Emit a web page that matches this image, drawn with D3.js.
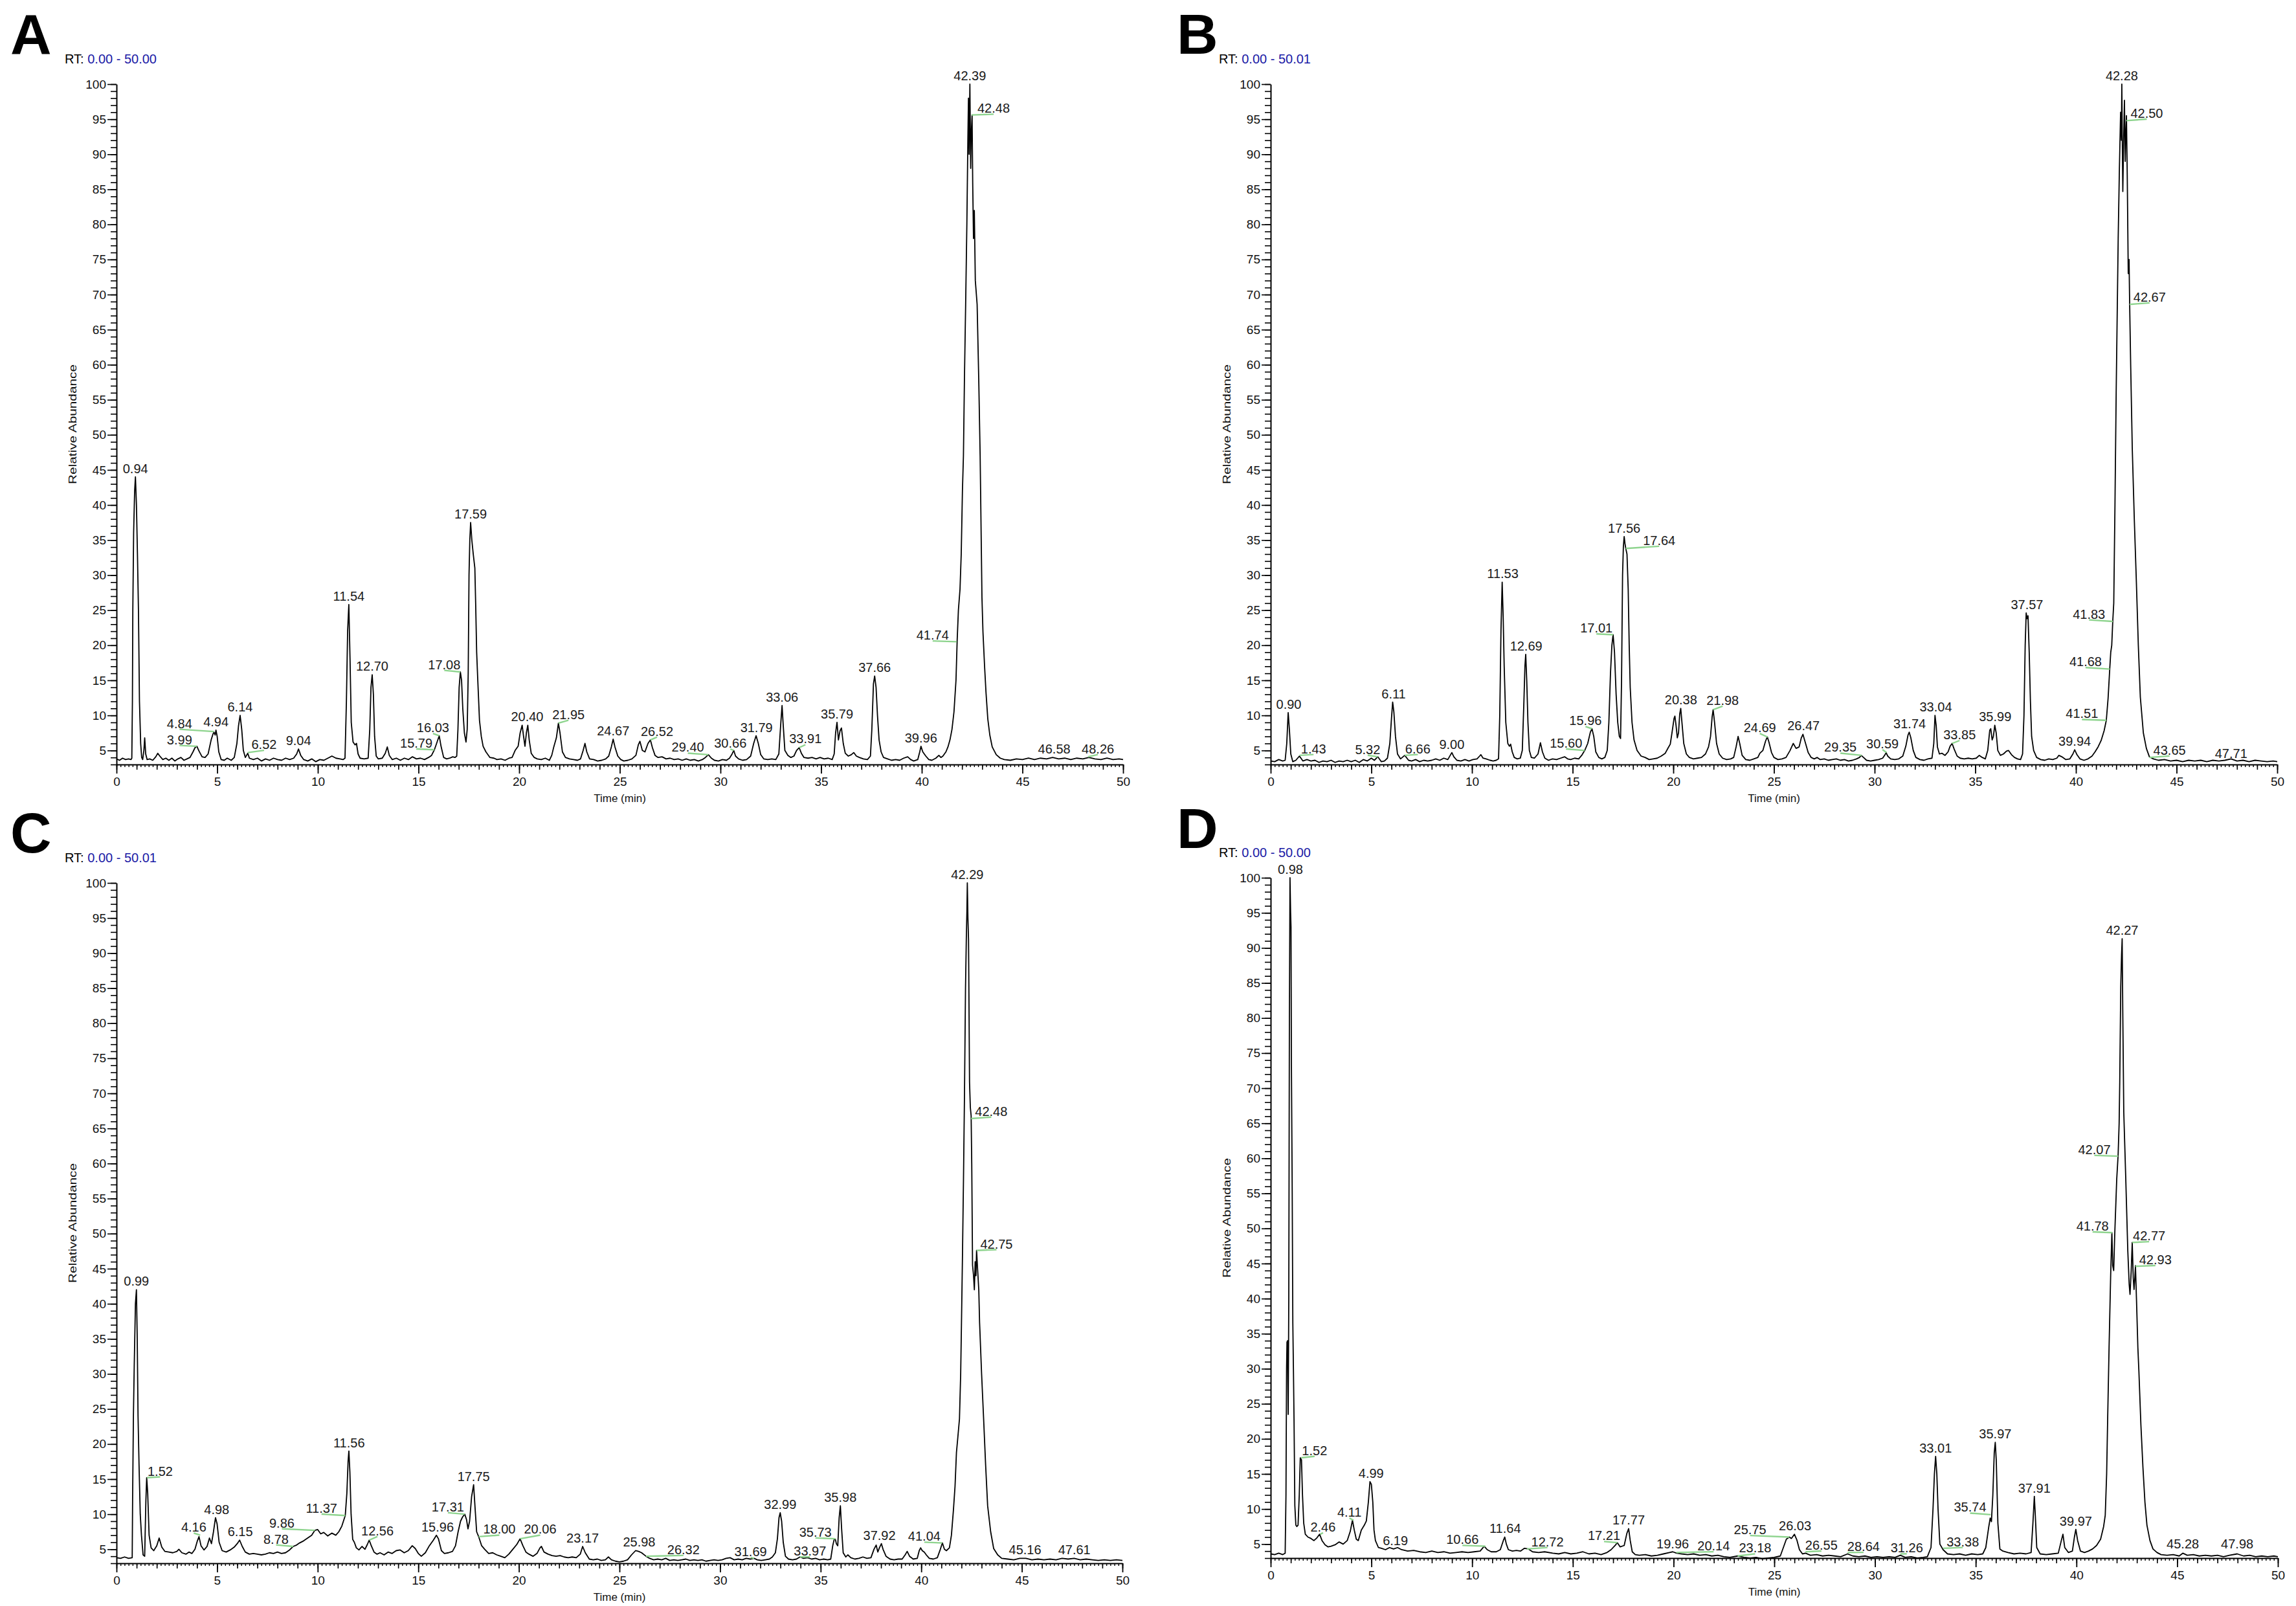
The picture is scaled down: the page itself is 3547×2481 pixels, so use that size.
<!DOCTYPE html>
<html><head><meta charset="utf-8">
<script src="https://cdn.jsdelivr.net/npm/d3@7"></script>
<style>html,body{margin:0;padding:0;background:#fff;} svg{display:block;}</style>
</head><body>
<script>
// ---------------- DATA ----------------
const panelLetters = ["A", "B", "C", "D"];
const rtRanges = ["0.00 - 50.00", "0.00 - 50.01", "0.00 - 50.01", "0.00 - 50.00"];
const yTickLabels = [5,10,15,20,25,30,35,40,45,50,55,60,65,70,75,80,85,90,95,100];
const xTickLabels = [0,5,10,15,20,25,30,35,40,45,50];
const yAxisTitle = "Relative Abundance";
const xAxisTitle = "Time (min)";

// chromatogram traces: [time (min), relative abundance (%)]
const traceA = [[0,3.8],[0.15,3.6],[0.3,3.9],[0.45,3.7],[0.6,3.8],[0.72,3.7],[0.76,3.9],[0.79,12],[0.81,25],[0.85,36],[0.9,42],[0.94,44],[0.99,40],[1.04,33],[1.09,25],[1.14,12],[1.2,6],[1.25,4.0],[1.3,3.7],[1.36,5],[1.4,6.8],[1.45,4.5],[1.52,3.7],[1.65,3.8],[1.8,3.6],[1.95,4.1],[2.05,4.6],[2.15,4.2],[2.3,3.7],[2.45,3.9],[2.6,3.6],[2.75,3.9],[2.9,3.5],[3.05,3.8],[3.2,4.0],[3.35,3.6],[3.5,3.8],[3.65,4.0],[3.8,4.8],[3.9,5.4],[3.99,5.6],[4.1,4.9],[4.25,4.1],[4.4,4.0],[4.55,4.5],[4.7,6.5],[4.8,7.4],[4.84,7.6],[4.9,7.2],[4.94,7.9],[5.0,7.0],[5.08,4.8],[5.2,3.7],[5.35,3.6],[5.5,3.9],[5.7,3.6],[5.85,4.0],[5.98,6.0],[6.06,8.5],[6.14,10.0],[6.22,8.0],[6.3,5.0],[6.4,4.0],[6.52,4.6],[6.6,3.9],[6.8,3.7],[7.0,3.9],[7.2,3.5],[7.4,3.8],[7.6,3.6],[7.8,3.9],[8.0,3.7],[8.2,3.6],[8.4,3.9],[8.6,3.7],[8.8,3.9],[8.95,4.5],[9.04,5.2],[9.15,4.3],[9.3,3.7],[9.5,3.5],[9.7,3.8],[9.9,3.4],[10.1,3.7],[10.3,3.6],[10.5,3.9],[10.7,4.2],[10.9,3.9],[11.1,3.8],[11.25,3.7],[11.35,3.9],[11.42,12],[11.48,22],[11.54,25.8],[11.6,18],[11.66,9],[11.75,6.2],[11.85,5.8],[11.92,6.0],[12.0,4.5],[12.1,3.9],[12.3,3.8],[12.5,3.9],[12.58,8],[12.64,14],[12.7,15.8],[12.76,13],[12.82,7],[12.9,4.2],[13.0,3.8],[13.2,3.9],[13.35,4.6],[13.45,5.5],[13.55,4.3],[13.7,3.7],[13.9,3.9],[14.1,3.6],[14.3,3.9],[14.5,3.7],[14.7,4.1],[14.9,3.8],[15.1,3.9],[15.3,3.7],[15.5,4.0],[15.65,4.3],[15.79,5.1],[15.9,6.0],[16.03,7.1],[16.12,5.6],[16.25,4.0],[16.4,3.8],[16.55,3.9],[16.7,4.1],[16.82,4.0],[16.9,4.2],[16.96,8],[17.02,14],[17.08,16.2],[17.14,15],[17.2,11],[17.28,7.5],[17.36,6.2],[17.42,8],[17.47,16],[17.51,30],[17.55,35],[17.59,37.5],[17.65,35],[17.72,33],[17.8,31],[17.84,26],[17.89,19],[17.94,15.4],[18.03,9.3],[18.12,7],[18.21,5.6],[18.35,4.8],[18.55,4.0],[18.75,3.9],[18.9,3.7],[19.1,3.8],[19.3,3.6],[19.5,3.9],[19.65,4.0],[19.8,5.0],[19.95,5.6],[20.05,7.5],[20.15,8.6],[20.22,7.0],[20.29,5.6],[20.36,7.5],[20.43,8.6],[20.5,6.5],[20.6,4.6],[20.75,4.0],[20.9,3.8],[21.1,3.7],[21.3,3.9],[21.5,3.6],[21.62,4.3],[21.72,5.5],[21.85,6.8],[21.95,8.9],[22.03,7.5],[22.15,4.8],[22.3,4.0],[22.5,3.8],[22.7,3.7],[22.9,3.6],[23.05,3.8],[23.18,5.0],[23.27,6.0],[23.36,4.8],[23.5,3.8],[23.7,3.7],[23.9,3.5],[24.1,3.6],[24.3,3.8],[24.45,4.2],[24.58,5.5],[24.67,6.6],[24.76,5.5],[24.9,4.2],[25.05,3.7],[25.2,3.5],[25.4,3.6],[25.6,3.8],[25.8,4.3],[25.92,5.8],[26.0,6.3],[26.12,5.0],[26.25,4.8],[26.4,6.0],[26.52,6.5],[26.62,5.4],[26.75,4.3],[26.9,4.0],[27.1,4.1],[27.3,3.8],[27.5,3.9],[27.7,3.7],[27.9,3.8],[28.1,3.6],[28.3,3.8],[28.5,3.6],[28.7,3.7],[28.9,3.5],[29.1,3.7],[29.25,4.0],[29.4,4.4],[29.55,3.9],[29.7,3.6],[29.9,3.5],[30.1,3.7],[30.3,3.6],[30.45,3.9],[30.58,4.5],[30.66,5.0],[30.75,4.2],[30.9,3.8],[31.1,3.6],[31.3,3.7],[31.5,4.2],[31.65,6.0],[31.77,7.1],[31.88,6.0],[32.0,4.4],[32.15,3.8],[32.35,3.7],[32.55,3.8],[32.75,3.7],[32.9,4.5],[33.0,9.0],[33.06,11.4],[33.12,8.5],[33.2,5.0],[33.35,4.3],[33.5,4.0],[33.65,4.2],[33.78,5.0],[33.91,5.4],[34.02,4.6],[34.15,4.0],[34.35,3.9],[34.55,4.0],[34.75,3.8],[34.95,4.0],[35.15,3.8],[35.35,3.9],[35.55,3.7],[35.65,4.5],[35.72,7.5],[35.79,9.0],[35.86,6.5],[35.94,7.8],[36.01,8.2],[36.1,6.0],[36.2,4.6],[36.35,4.2],[36.5,4.4],[36.62,4.7],[36.75,4.2],[36.9,4.0],[37.1,3.8],[37.3,3.7],[37.45,4.2],[37.52,8.0],[37.6,14.5],[37.66,15.6],[37.73,14],[37.8,10],[37.88,6.5],[37.98,4.8],[38.1,4.0],[38.3,3.8],[38.5,3.6],[38.7,3.7],[38.9,3.6],[39.1,3.9],[39.3,4.1],[39.45,3.7],[39.6,3.5],[39.8,3.7],[39.9,4.8],[39.96,5.6],[40.05,4.8],[40.2,4.2],[40.35,3.7],[40.5,3.6],[40.7,3.9],[40.85,4.3],[40.95,4.0],[41.05,4.2],[41.2,4.8],[41.3,5.5],[41.4,6.5],[41.5,8.0],[41.6,10.5],[41.7,15],[41.76,20.8],[41.82,25],[41.9,28],[41.96,33],[42.02,42],[42.07,47],[42.12,58],[42.18,68.6],[42.24,80],[42.29,92],[42.32,98],[42.35,90],[42.39,100],[42.43,88],[42.46,93],[42.5,95.6],[42.53,86],[42.57,78],[42.61,82],[42.66,72],[42.75,68.6],[42.83,58],[42.9,47],[42.96,33.6],[42.99,26.8],[43.04,21.9],[43.12,17],[43.19,13.3],[43.28,9.5],[43.38,7.2],[43.5,5.5],[43.7,4.4],[43.9,3.9],[44.1,3.7],[44.4,3.6],[44.7,3.8],[45.0,3.7],[45.3,3.9],[45.6,3.7],[45.9,3.9],[46.2,3.8],[46.5,4.0],[46.8,3.8],[47.1,3.9],[47.4,3.7],[47.7,3.9],[48.0,3.8],[48.3,4.0],[48.6,3.8],[48.9,3.7],[49.2,3.9],[49.5,3.7],[49.8,3.8],[50.0,3.7]];

const traceB = [[0,3.5],[0.2,3.4],[0.4,3.7],[0.6,3.5],[0.72,3.6],[0.8,6],[0.87,10.4],[0.93,8],[1.0,4.5],[1.1,3.4],[1.25,3.6],[1.43,4.2],[1.6,3.5],[1.8,3.7],[2.0,3.5],[2.2,3.6],[2.4,3.3],[2.6,3.5],[2.8,3.4],[3.0,3.6],[3.2,3.3],[3.4,3.5],[3.6,3.4],[3.8,3.6],[4.0,3.4],[4.2,3.6],[4.4,3.3],[4.6,3.7],[4.8,3.5],[5.0,3.9],[5.15,3.6],[5.32,4.1],[5.5,3.4],[5.65,3.5],[5.8,3.9],[5.92,6],[6.0,9.5],[6.06,11.9],[6.12,10.5],[6.2,7.0],[6.3,4.5],[6.45,3.8],[6.66,4.3],[6.85,3.6],[7.0,3.5],[7.2,3.7],[7.4,3.4],[7.6,3.6],[7.8,3.5],[8.0,3.6],[8.2,3.8],[8.4,3.6],[8.6,3.9],[8.8,3.7],[8.92,4.3],[9.0,4.7],[9.1,4.1],[9.25,3.6],[9.45,3.5],[9.65,3.7],[9.85,3.5],[10.05,3.7],[10.25,3.8],[10.38,4.2],[10.44,4.4],[10.55,3.9],[10.7,3.8],[10.9,3.6],[11.05,3.5],[11.2,3.6],[11.32,3.8],[11.38,10],[11.44,22],[11.5,29],[11.55,24],[11.6,17],[11.68,9],[11.78,6.0],[11.86,5.6],[11.92,5.9],[12.0,4.8],[12.1,4.0],[12.25,3.8],[12.4,3.9],[12.5,5],[12.58,12],[12.63,17],[12.67,18.7],[12.72,15],[12.78,9],[12.85,5.0],[12.95,4.0],[13.1,3.9],[13.28,4.5],[13.4,6.1],[13.5,4.8],[13.62,3.9],[13.8,3.6],[14.0,3.8],[14.2,3.7],[14.4,3.9],[14.6,4.1],[14.75,3.8],[14.9,3.7],[15.1,3.9],[15.3,3.8],[15.45,4.3],[15.6,5.0],[15.75,6.0],[15.88,7.6],[15.96,8.1],[16.05,7.0],[16.15,4.8],[16.3,4.0],[16.45,3.8],[16.6,4.0],[16.72,5],[16.8,9],[16.88,16],[16.95,20],[17.01,21.5],[17.08,19],[17.16,13],[17.24,9],[17.32,7.0],[17.38,6.7],[17.43,15],[17.48,30],[17.52,34],[17.56,35.5],[17.6,34.5],[17.64,33.8],[17.7,33],[17.76,28],[17.81,20],[17.86,14],[17.95,9],[18.05,6.5],[18.2,5.0],[18.4,4.2],[18.6,4.0],[18.8,3.7],[19.0,3.8],[19.2,3.9],[19.4,4.2],[19.6,4.6],[19.75,5.4],[19.85,5.9],[19.95,7.8],[20.04,9.6],[20.08,9.9],[20.14,8.5],[20.2,6.8],[20.26,7.5],[20.32,10.2],[20.37,11.0],[20.43,9.0],[20.52,6.0],[20.65,4.5],[20.8,4.0],[21.0,3.8],[21.2,3.9],[21.4,4.0],[21.6,4.5],[21.75,5.5],[21.85,7],[21.93,9.8],[21.98,10.8],[22.05,9],[22.15,6],[22.28,4.5],[22.45,3.9],[22.65,3.7],[22.85,3.8],[23.0,4.0],[23.12,5.5],[23.22,7.0],[23.3,6.0],[23.42,4.3],[23.6,3.7],[23.8,3.6],[24.0,3.8],[24.2,4.0],[24.3,4.6],[24.45,5.0],[24.58,6.3],[24.67,6.95],[24.75,6.2],[24.88,4.7],[25.0,4.0],[25.2,3.7],[25.4,3.8],[25.6,4.0],[25.8,5.0],[25.96,6.0],[26.1,5.3],[26.25,5.5],[26.36,6.8],[26.44,7.3],[26.55,6.2],[26.7,4.7],[26.85,4.0],[27.0,3.8],[27.15,4.0],[27.3,3.7],[27.5,3.8],[27.7,3.6],[27.9,3.7],[28.1,3.8],[28.3,3.6],[28.5,3.7],[28.7,3.5],[28.9,3.6],[29.1,3.8],[29.25,4.0],[29.33,4.3],[29.45,4.0],[29.6,3.6],[29.8,3.5],[30.0,3.6],[30.2,3.7],[30.4,3.9],[30.52,4.4],[30.57,4.7],[30.65,4.2],[30.8,3.8],[31.0,3.7],[31.2,3.8],[31.4,4.2],[31.55,5.6],[31.66,7.2],[31.72,7.6],[31.8,6.8],[31.92,5.0],[32.05,4.0],[32.25,3.7],[32.45,3.6],[32.65,3.8],[32.85,3.9],[32.94,6],[33.0,10.0],[33.06,8.5],[33.12,5.5],[33.22,4.5],[33.35,4.6],[33.5,4.3],[33.65,4.8],[33.75,5.6],[33.85,6.0],[33.95,5.2],[34.1,4.2],[34.25,3.9],[34.45,3.8],[34.65,3.9],[34.85,3.8],[35.05,3.9],[35.2,4.3],[35.35,4.0],[35.5,3.8],[35.62,5],[35.72,7.9],[35.77,8.1],[35.84,6.5],[35.9,7.0],[35.97,8.6],[36.04,7.5],[36.12,5.0],[36.25,4.3],[36.4,4.5],[36.55,4.9],[36.65,5.0],[36.8,4.4],[36.95,4.0],[37.1,3.8],[37.25,3.7],[37.35,4.5],[37.42,10],[37.48,20],[37.53,24.6],[37.57,23.8],[37.62,24.2],[37.68,19],[37.74,12],[37.8,7],[37.9,5.0],[38.05,4.0],[38.25,3.7],[38.45,3.6],[38.65,3.8],[38.85,3.7],[39.05,3.9],[39.15,4.3],[39.3,4.1],[39.5,3.7],[39.7,3.8],[39.85,4.5],[39.94,5.1],[40.05,4.4],[40.2,3.8],[40.4,3.6],[40.6,3.8],[40.8,4.2],[40.95,4.8],[41.1,5.5],[41.25,6.4],[41.4,7.8],[41.51,9.3],[41.6,12.5],[41.68,16.6],[41.73,19],[41.78,20],[41.83,23.4],[41.88,26],[41.94,40],[42.0,56],[42.05,67],[42.1,78],[42.16,88],[42.22,96],[42.26,92],[42.28,100],[42.3,93],[42.33,84.7],[42.37,92],[42.41,97.7],[42.45,89],[42.48,93],[42.51,95.5],[42.55,87],[42.6,73],[42.64,75],[42.67,68.6],[42.72,60],[42.8,48],[42.9,38],[43.0,29.3],[43.1,20],[43.2,12.6],[43.35,7.5],[43.5,5.3],[43.65,4.1],[43.85,3.8],[44.1,3.6],[44.4,3.7],[44.7,3.5],[45.0,3.6],[45.3,3.4],[45.6,3.6],[45.9,3.5],[46.2,3.6],[46.5,3.4],[46.8,3.6],[47.1,3.5],[47.4,3.6],[47.71,3.8],[48.0,3.5],[48.3,3.6],[48.6,3.4],[48.9,3.6],[49.2,3.5],[49.5,3.4],[49.8,3.5],[50,3.4]];

const traceC = [[0,3.8],[0.2,3.7],[0.4,3.9],[0.6,3.7],[0.78,3.8],[0.8,12],[0.84,24],[0.88,31],[0.94,40],[0.99,42],[1.03,35],[1.07,24],[1.12,17],[1.18,10],[1.24,7],[1.32,4.2],[1.4,4.0],[1.46,12],[1.5,15.2],[1.55,13],[1.62,7],[1.72,5.2],[1.85,4.8],[2.0,5.5],[2.12,6.6],[2.25,5.3],[2.4,4.7],[2.6,4.6],[2.8,4.5],[3.0,4.7],[3.1,5.0],[3.25,4.5],[3.45,4.3],[3.6,4.6],[3.75,4.4],[3.9,5.0],[4.02,6.2],[4.1,6.8],[4.2,5.5],[4.35,4.9],[4.5,5.4],[4.62,6.6],[4.72,5.8],[4.82,7.5],[4.92,9.5],[5.0,8.6],[5.1,6.0],[5.25,4.8],[5.45,4.6],[5.65,4.9],[5.85,5.3],[6.0,5.8],[6.12,6.3],[6.25,5.4],[6.4,4.6],[6.6,4.3],[6.8,4.4],[7.0,4.3],[7.2,4.2],[7.4,4.3],[7.6,4.5],[7.8,4.4],[8.0,4.6],[8.2,4.4],[8.4,4.5],[8.6,4.9],[8.78,5.4],[8.95,5.6],[9.1,5.9],[9.3,6.2],[9.5,6.6],[9.7,7.0],[9.86,7.7],[10.0,7.8],[10.15,7.2],[10.3,7.4],[10.5,6.9],[10.7,7.3],[10.9,7.0],[11.05,7.5],[11.2,8.3],[11.37,9.8],[11.45,13],[11.51,17.5],[11.55,19.0],[11.6,16],[11.66,10],[11.74,6.4],[11.82,6.0],[11.92,5.2],[12.05,4.9],[12.2,5.4],[12.35,5.0],[12.47,5.7],[12.56,6.3],[12.65,5.6],[12.8,4.6],[12.95,4.3],[13.1,4.5],[13.3,4.2],[13.5,4.6],[13.7,4.4],[13.9,4.8],[14.1,4.9],[14.3,4.5],[14.5,4.8],[14.7,5.5],[14.85,5.1],[15.0,4.4],[15.15,4.0],[15.35,4.5],[15.55,5.5],[15.75,6.3],[15.9,7.0],[16.0,6.5],[16.15,4.8],[16.3,4.4],[16.5,4.5],[16.7,4.7],[16.85,5.5],[16.98,7.5],[17.1,9.0],[17.2,9.6],[17.31,10.0],[17.4,9.2],[17.47,7.9],[17.55,9],[17.65,12.5],[17.75,14.2],[17.82,11],[17.9,7.5],[18.0,6.8],[18.15,5.5],[18.3,5.0],[18.5,4.4],[18.7,4.5],[18.9,4.2],[19.1,4.0],[19.3,3.8],[19.5,4.3],[19.7,5.0],[19.9,5.7],[20.06,6.5],[20.2,5.5],[20.35,4.6],[20.5,4.3],[20.7,4.0],[20.9,4.4],[21.05,5.2],[21.12,5.4],[21.25,4.6],[21.45,4.3],[21.65,4.1],[21.85,4.0],[22.05,4.1],[22.25,3.9],[22.45,3.8],[22.65,3.9],[22.85,3.8],[23.05,4.3],[23.17,5.4],[23.3,4.5],[23.5,3.6],[23.7,3.5],[23.9,3.6],[24.1,3.4],[24.3,3.5],[24.45,3.9],[24.6,3.5],[24.8,3.3],[25.0,3.2],[25.2,3.3],[25.4,3.5],[25.6,4.2],[25.8,4.8],[25.95,4.7],[26.1,4.5],[26.32,4.0],[26.5,3.7],[26.7,3.5],[26.9,3.6],[27.1,3.5],[27.3,3.7],[27.5,3.4],[27.7,3.5],[27.9,3.4],[28.1,3.5],[28.3,3.6],[28.5,3.4],[28.7,3.5],[28.9,3.4],[29.1,3.5],[29.3,3.3],[29.5,3.4],[29.7,3.5],[29.9,3.4],[30.1,3.5],[30.3,3.7],[30.5,3.8],[30.7,3.5],[30.9,3.6],[31.1,3.5],[31.3,3.7],[31.5,3.6],[31.69,3.7],[31.85,3.5],[32.05,3.4],[32.25,3.5],[32.45,3.6],[32.6,3.9],[32.75,4.5],[32.85,6.5],[32.93,9.5],[32.99,10.2],[33.06,9],[33.14,6],[33.25,4.0],[33.4,3.6],[33.6,3.5],[33.8,3.6],[33.97,3.9],[34.15,3.7],[34.35,3.8],[34.55,3.6],[34.75,3.7],[34.95,3.5],[35.15,3.6],[35.35,3.5],[35.5,3.6],[35.6,5.5],[35.68,6.5],[35.73,6.4],[35.78,5.8],[35.85,5.5],[35.92,9.5],[35.98,11.2],[36.04,8],[36.12,4.5],[36.25,3.9],[36.35,4.2],[36.5,3.8],[36.7,3.6],[36.9,3.7],[37.1,3.9],[37.3,3.7],[37.5,3.8],[37.65,5.0],[37.76,5.6],[37.84,4.6],[37.92,5.2],[38.02,5.8],[38.1,5.0],[38.25,4.0],[38.45,3.6],[38.65,3.5],[38.85,3.6],[39.05,3.6],[39.2,4.2],[39.3,4.7],[39.42,4.0],[39.6,3.6],[39.8,3.7],[39.9,4.8],[39.97,5.2],[40.05,4.8],[40.15,4.6],[40.25,4.2],[40.4,3.7],[40.6,3.6],[40.8,3.8],[40.95,5.0],[41.05,5.9],[41.15,5.0],[41.25,4.8],[41.4,5.2],[41.5,7.0],[41.6,10.6],[41.68,14],[41.75,18.8],[41.82,21],[41.9,23.6],[41.96,30],[42.0,37.3],[42.05,47],[42.1,57.8],[42.15,70],[42.2,85],[42.24,92],[42.27,96],[42.29,100],[42.32,95],[42.35,92],[42.38,80],[42.4,71.6],[42.44,68],[42.48,66.8],[42.51,60],[42.55,45.5],[42.6,44],[42.64,42],[42.68,46],[42.72,44],[42.75,47.6],[42.8,45],[42.86,42],[42.9,37.3],[43.0,30],[43.1,23.6],[43.2,17],[43.3,11.2],[43.45,7.5],[43.6,5.1],[43.8,4.2],[44.0,3.7],[44.3,3.6],[44.6,3.5],[44.9,3.7],[45.2,3.7],[45.5,3.5],[45.8,3.6],[46.1,3.5],[46.4,3.6],[46.7,3.5],[47.0,3.7],[47.3,3.6],[47.6,3.7],[47.9,3.5],[48.2,3.6],[48.5,3.5],[48.8,3.4],[49.1,3.5],[49.4,3.4],[49.7,3.5],[50,3.4]];

const traceD = [[0,3.6],[0.2,3.5],[0.4,3.7],[0.6,3.5],[0.72,3.7],[0.76,12],[0.79,30],[0.81,33.8],[0.84,34],[0.87,23.5],[0.9,40],[0.93,80],[0.96,100],[0.99,95],[1.01,93],[1.03,73.5],[1.07,55],[1.1,36.5],[1.13,30],[1.16,22.8],[1.2,10.5],[1.25,7.7],[1.3,7.5],[1.36,7.7],[1.42,12],[1.47,17.3],[1.53,17.0],[1.58,12],[1.64,8],[1.72,6.4],[1.85,6.0],[2.0,5.8],[2.15,5.5],[2.3,5.9],[2.43,6.4],[2.55,5.5],[2.7,4.9],[2.85,4.6],[3.0,4.7],[3.2,4.9],[3.4,5.3],[3.6,5.0],[3.8,5.5],[3.95,6.8],[4.06,8.4],[4.15,7.0],[4.25,5.7],[4.35,5.5],[4.5,7.0],[4.65,7.7],[4.75,8.3],[4.85,11],[4.93,13.9],[5.0,13.5],[5.07,11],[5.13,7],[5.2,5.5],[5.35,4.5],[5.5,4.4],[5.7,4.2],[5.9,4.5],[6.1,4.3],[6.3,4.5],[6.5,4.2],[6.8,4.0],[7.1,4.1],[7.4,3.9],[7.7,3.8],[8.0,4.0],[8.3,3.8],[8.6,3.9],[8.9,3.7],[9.2,3.8],[9.5,3.9],[9.8,3.8],[10.1,3.9],[10.4,4.0],[10.6,4.7],[10.75,4.2],[10.95,3.9],[11.2,3.9],[11.4,4.2],[11.55,5.5],[11.62,6.0],[11.7,5.0],[11.8,4.2],[12.0,4.0],[12.2,4.1],[12.4,4.0],[12.6,4.4],[12.8,4.3],[13.0,3.9],[13.3,3.8],[13.6,3.9],[14.0,3.7],[14.3,3.6],[14.6,3.8],[14.9,3.6],[15.2,3.7],[15.5,3.9],[15.8,3.6],[16.1,3.7],[16.4,3.5],[16.7,3.8],[16.9,4.2],[17.1,4.8],[17.21,5.2],[17.35,4.6],[17.55,4.8],[17.68,6.5],[17.77,7.2],[17.85,5.5],[17.95,3.9],[18.1,3.5],[18.3,3.4],[18.6,3.5],[18.9,3.3],[19.2,3.4],[19.5,3.6],[19.8,3.8],[19.96,3.9],[20.15,3.7],[20.4,3.6],[20.7,3.5],[21.0,3.6],[21.3,3.4],[21.6,3.5],[21.9,3.3],[22.2,3.4],[22.5,3.2],[22.8,3.1],[23.18,3.3],[23.5,3.1],[23.8,3.0],[24.1,3.1],[24.4,2.9],[24.7,3.0],[25.0,3.1],[25.3,3.3],[25.45,4.5],[25.6,5.7],[25.75,6.0],[25.85,5.8],[26.0,6.4],[26.12,5.6],[26.25,4.2],[26.4,3.6],[26.55,3.7],[26.8,3.4],[27.1,3.5],[27.4,3.3],[27.7,3.4],[28.0,3.3],[28.3,3.2],[28.64,3.6],[28.9,3.3],[29.2,3.2],[29.5,3.3],[29.8,3.1],[30.1,3.2],[30.4,3.1],[30.7,3.2],[31.0,3.1],[31.26,3.4],[31.5,3.1],[31.8,3.2],[32.1,3.0],[32.4,3.1],[32.6,3.2],[32.78,4.5],[32.88,10],[32.95,15],[33.01,17.5],[33.07,15],[33.13,10],[33.22,5],[33.38,4.2],[33.6,3.6],[33.9,3.5],[34.2,3.6],[34.5,3.4],[34.8,3.6],[35.1,3.5],[35.35,3.6],[35.5,4.5],[35.65,7.5],[35.72,8.7],[35.78,8.2],[35.85,12],[35.92,18],[35.97,19.5],[36.02,17],[36.1,8],[36.2,4.3],[36.35,4.0],[36.6,3.8],[36.9,3.6],[37.2,3.7],[37.5,3.6],[37.75,3.8],[37.84,8],[37.91,11.8],[37.96,9],[38.03,4.5],[38.2,3.6],[38.5,3.5],[38.8,3.6],[39.1,3.7],[39.25,5.5],[39.33,6.4],[39.42,4.5],[39.6,3.8],[39.8,4.0],[39.9,6.0],[39.97,7.1],[40.06,5.5],[40.2,4.0],[40.4,3.8],[40.6,4.0],[40.8,4.3],[41.0,4.8],[41.2,5.7],[41.35,7.5],[41.43,9.1],[41.5,15],[41.55,22.8],[41.62,33],[41.7,43.4],[41.76,49.4],[41.8,44.7],[41.85,44],[41.9,49],[42.0,57],[42.07,60.5],[42.12,65],[42.15,70.8],[42.2,84.5],[42.24,89],[42.27,91.3],[42.3,81],[42.35,66.6],[42.45,57],[42.55,46.8],[42.62,42],[42.66,40.6],[42.72,44],[42.77,48],[42.82,43],[42.86,41.3],[42.9,43],[42.93,44.7],[42.98,40],[43.05,33],[43.1,29.7],[43.2,22],[43.3,16],[43.4,11],[43.5,7.7],[43.65,5.5],[43.8,4.3],[44.0,3.8],[44.2,3.5],[44.5,3.4],[44.8,3.5],[45.1,3.3],[45.28,3.7],[45.5,3.4],[45.8,3.5],[46.1,3.3],[46.4,3.4],[46.7,3.3],[47.0,3.4],[47.3,3.2],[47.6,3.4],[47.98,3.6],[48.3,3.3],[48.6,3.4],[48.9,3.2],[49.2,3.3],[49.5,3.2],[49.8,3.3],[50,3.2]];

// peak annotations: [retention time, abundance at peak, (label time, label abundance) when offset with a leader]
const peaksA = [[0.94,44],[3.99,5.6,3.13,5.9],[4.84,7.7,3.13,8.2],[4.94,7.9],[6.14,10.0],[6.52,4.7,7.33,5.2],[9.04,5.2],[11.54,25.8],[12.70,15.8],[15.79,5.1,14.89,5.4],[16.03,7.1,15.72,7.6],[17.08,16.2,16.28,16.6],[17.59,37.5],[20.40,8.6],[21.95,8.9,22.45,9.5],[24.67,6.6],[26.52,6.5,26.85,7.1],[29.40,4.4,28.38,4.8],[30.66,5.0,30.49,5.4],[31.79,7.1],[33.06,11.4],[33.91,5.4,34.22,6.0],[35.79,9.0],[37.66,15.6],[39.96,5.6],[41.74,20.5,40.54,20.8],[42.39,100],[42.48,95.6,43.57,95.9],[46.58,4.0],[48.26,4.1,48.75,4.6]];
const peaksB = [[0.90,10.4],[1.43,4.3,2.13,4.6],[5.32,4.1,4.82,4.5],[6.11,11.9],[6.66,4.3,7.31,4.6],[9.00,4.7],[11.53,29.0],[12.69,18.7],[15.60,5.0,14.67,5.4],[15.96,8.1,15.64,8.6],[17.01,21.5,16.18,21.8],[17.56,35.5],[17.64,33.8,19.3,34.3],[20.38,11.0],[21.98,10.8,22.45,11.5],[24.69,6.9,24.3,7.6],[26.47,7.3],[29.35,4.3,28.3,4.8],[30.59,4.7,30.39,5.3],[31.74,7.6],[33.04,10.0],[33.85,6.0,34.22,6.6],[35.99,8.6],[37.57,24.6],[39.94,5.1],[41.51,9.3,40.3,9.6],[41.68,16.6,40.48,17.0],[41.83,23.4,40.65,23.8],[42.28,100],[42.50,94.8,43.52,95.2],[42.67,68.6,43.66,69.0],[43.65,4.0,44.65,4.4],[47.71,3.4]];
const peaksC = [[0.99,42],[1.52,15.2,2.17,15.5],[4.16,7.0,3.84,7.5],[4.98,9.5],[6.15,6.3],[8.78,5.4,7.93,5.8],[9.86,7.7,8.22,8.1],[11.37,9.8,10.19,10.2],[11.56,19.0],[12.56,6.3,12.97,7.0],[15.96,7.0],[17.31,10.0,16.47,10.4],[17.75,14.2],[18.00,6.8,19.03,7.2],[20.06,6.5,21.06,7.2],[23.17,5.4],[25.98,4.8],[26.32,4.0,28.18,4.3],[31.69,3.7,31.52,4.0],[32.99,10.2],[33.97,3.9,34.47,4.1],[35.73,6.5,34.74,6.8],[35.98,11.2],[37.92,5.8],[41.04,5.9,40.15,6.2],[42.29,100],[42.48,66.4,43.48,66.8],[42.75,47.6,43.74,47.9],[45.16,3.7],[47.61,3.7]];
const peaksD = [[0.98,100],[1.52,17.3,2.18,17.7],[2.46,6.4,2.6,6.8],[4.11,8.4,3.91,8.9],[4.99,13.9],[6.19,4.3],[10.66,4.7,9.52,5.0],[11.64,6.0],[12.72,4.3,13.74,4.7],[17.21,5.2,16.55,5.55],[17.77,7.2],[19.96,3.8],[20.14,3.8,21.99,4.1],[23.18,3.3,24.05,3.8],[25.75,6.0,23.8,6.4],[26.03,6.4],[26.55,3.9,27.34,4.2],[28.64,3.8,29.43,4.0],[31.26,3.6,31.58,3.8],[33.01,17.5],[33.38,4.4,34.36,4.7],[35.74,9.2,34.72,9.6],[35.97,19.5],[37.91,11.8],[39.97,7.1],[41.78,49.4,40.8,49.7],[42.07,60.3,40.89,60.6],[42.27,91.3],[42.77,48.0,43.61,48.3],[42.93,44.6,43.92,44.9],[45.28,3.8],[47.98,3.8]];

const traces = [traceA, traceB, traceC, traceD];
const peaks = [peaksA, peaksB, peaksC, peaksD];

// ---------------- LAYOUT ----------------
const W = 3547, H = 2481;
const FONT = "'Liberation Sans', Arial, Helvetica, sans-serif";
const frames = [
  {x0:180,  x1:1735, yTop:130,  yBot:1181, letterX:16,   letterY:83,   rtX:100,  rtY:98},
  {x0:1963, x1:3518, yTop:130,  yBot:1181, letterX:1818, letterY:83,   rtX:1883, rtY:98},
  {x0:180,  x1:1734, yTop:1364, yBot:2415, letterX:16,   letterY:1317, rtX:100,  rtY:1332},
  {x0:1963, x1:3519, yTop:1356, yBot:2407, letterX:1818, letterY:1310, rtX:1883, rtY:1324}
];

const svg = d3.select("body").append("svg")
  .attr("width", W).attr("height", H).attr("viewBox", `0 0 ${W} ${H}`);
svg.append("rect").attr("width", W).attr("height", H).attr("fill", "#fff");

const fmt = d3.format(".2f");

panelLetters.forEach((letter, i) => {
  const f = frames[i];
  const x = d3.scaleLinear().domain([0, 50]).range([f.x0, f.x1]);
  const y = d3.scaleLinear().domain([3, 100]).range([f.yBot, f.yTop]);
  const g = svg.append("g");

  // panel letter
  g.append("text").attr("x", f.letterX).attr("y", f.letterY)
    .attr("font-family", FONT).attr("font-weight", "bold").attr("font-size", 88)
    .attr("fill", "#000").text(letter);

  // RT range header
  const rt = g.append("text").attr("x", f.rtX).attr("y", f.rtY)
    .attr("font-family", FONT).attr("font-size", 20);
  rt.append("tspan").attr("fill", "#000").text("RT: ");
  rt.append("tspan").attr("fill", "#1a1aa6").text(rtRanges[i]);

  // y axis: minor ticks (1 unit), major ticks with labels (5 units)
  g.append("g").attr("transform", `translate(${f.x0},0)`)
    .call(d3.axisLeft(y).tickValues(d3.range(3, 101, 1)).tickSize(9).tickFormat(""))
    .call(s => s.select(".domain").remove())
    .call(s => s.selectAll("line").attr("stroke", "#000").attr("stroke-width", 1.6));
  const ya = g.append("g").attr("transform", `translate(${f.x0},0)`)
    .call(d3.axisLeft(y).tickValues(yTickLabels).tickSize(14).tickSizeOuter(0).tickPadding(2));
  ya.select(".domain").attr("stroke", "#000").attr("stroke-width", 2);
  ya.selectAll("line").attr("stroke", "#000").attr("stroke-width", 1.6);
  ya.selectAll("text").attr("font-family", FONT).attr("font-size", 19).attr("fill", "#111");

  // x axis: minor (0.2 min), medium (1 min), major (5 min)
  g.append("g").attr("transform", `translate(0,${f.yBot})`)
    .call(d3.axisBottom(x).tickValues(d3.range(0, 250.5, 1).map(k => k / 5)).tickSize(4).tickFormat(""))
    .call(s => s.select(".domain").remove())
    .call(s => s.selectAll("line").attr("stroke", "#000").attr("stroke-width", 1.4));
  g.append("g").attr("transform", `translate(0,${f.yBot})`)
    .call(d3.axisBottom(x).tickValues(d3.range(0, 51, 1)).tickSize(8).tickFormat(""))
    .call(s => s.select(".domain").remove())
    .call(s => s.selectAll("line").attr("stroke", "#000").attr("stroke-width", 1.6));
  const xa = g.append("g").attr("transform", `translate(0,${f.yBot})`)
    .call(d3.axisBottom(x).tickValues(xTickLabels).tickSize(14).tickSizeOuter(0).tickPadding(6));
  xa.select(".domain").attr("stroke", "#000").attr("stroke-width", 2);
  xa.selectAll("line").attr("stroke", "#000").attr("stroke-width", 1.8);
  xa.selectAll("text").attr("font-family", FONT).attr("font-size", 19).attr("fill", "#111");

  // axis titles
  g.append("text").attr("x", (f.x0 + f.x1) / 2).attr("y", f.yBot + 58)
    .attr("text-anchor", "middle").attr("font-family", FONT).attr("font-size", 17)
    .attr("fill", "#111").text(xAxisTitle);
  g.append("text")
    .attr("transform", `translate(${f.x0 - 62},${(f.yTop + f.yBot) / 2}) rotate(-90)`)
    .attr("text-anchor", "middle").attr("font-family", FONT).attr("font-size", 17)
    .attr("textLength", 185).attr("lengthAdjust", "spacingAndGlyphs")
    .attr("fill", "#111").text(yAxisTitle);

  // trace
  const line = d3.line().x(d => x(d[0])).y(d => y(d[1]));
  g.append("path").datum(traces[i]).attr("d", line)
    .attr("fill", "none").attr("stroke", "#000").attr("stroke-width", 1.8)
    .attr("stroke-linejoin", "round");

  // annotations
  const ann = g.append("g");
  peaks[i].forEach(p => {
    const [t, v, lt, lv] = p;
    if (lt === undefined) {
      ann.append("text").attr("x", x(t)).attr("y", y(v) - 6)
        .attr("text-anchor", "middle").attr("font-family", FONT).attr("font-size", 20)
        .attr("fill", "#1a1a1a").text(fmt(t));
    } else {
      ann.append("line")
        .attr("x1", x(t)).attr("y1", y(v))
        .attr("x2", x(lt)).attr("y2", y(lv) + 2)
        .attr("stroke", "#8ed48e").attr("stroke-width", 2.4);
      ann.append("text").attr("x", x(lt)).attr("y", y(lv))
        .attr("text-anchor", "middle").attr("font-family", FONT).attr("font-size", 20)
        .attr("fill", "#1a1a1a").text(fmt(t));
    }
  });
});
</script>
</body></html>
